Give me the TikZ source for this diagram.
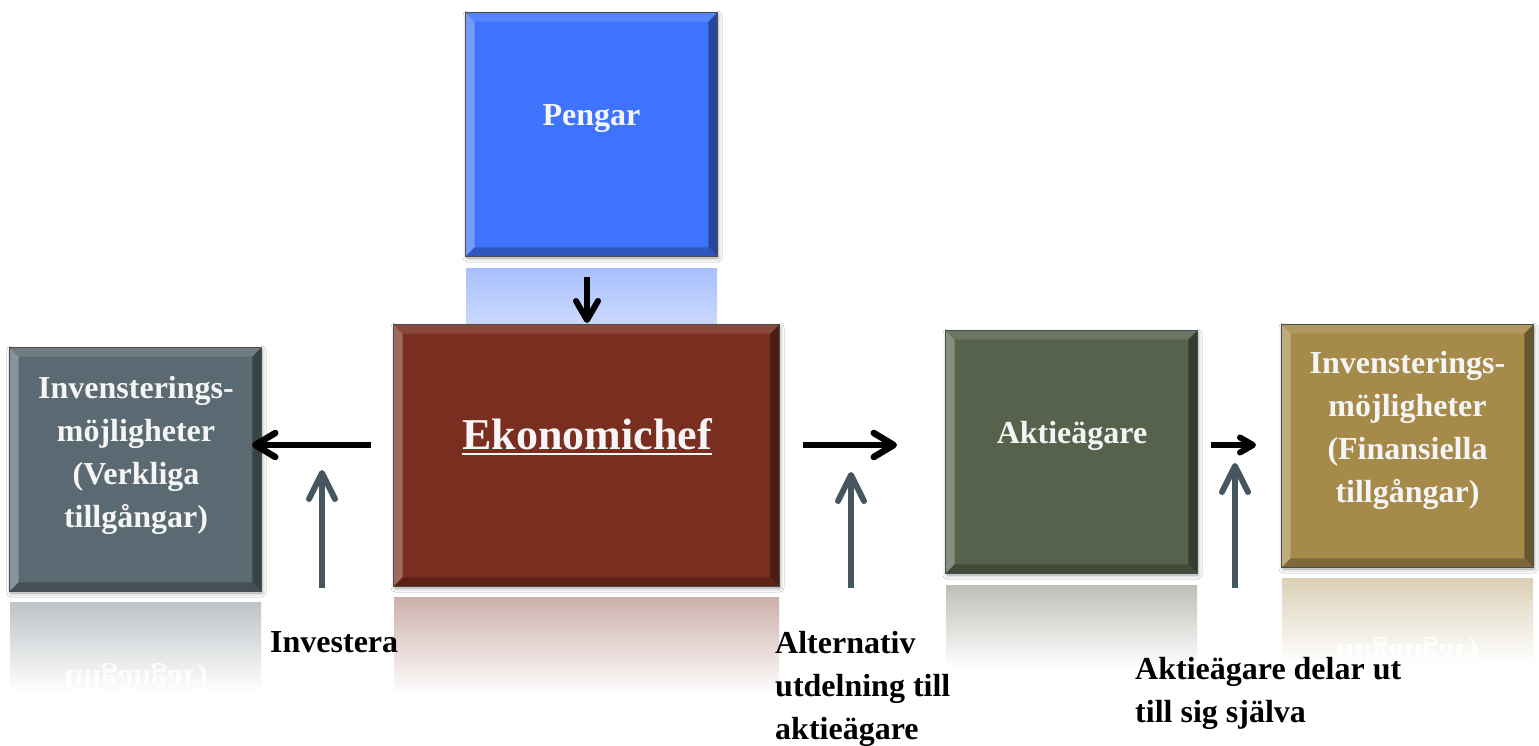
\documentclass[tikz,border=0pt]{standalone}
\usepackage{fontspec}
\setmainfont{Liberation Serif}
\usepackage{graphicx}
\usetikzlibrary{arrows.meta,shadows.blur}
\definecolor{cinv}{HTML}{5B6A72}
\definecolor{cpeng}{HTML}{3E73FD}
\definecolor{ceko}{HTML}{7A2E20}
\definecolor{cakt}{HTML}{57624C}
\definecolor{cfin}{HTML}{A68A4A}
\definecolor{cgray}{HTML}{46565E}
\newcommand\bvw{9}
\newcommand\bevbox[6]{%
  \node[boxbase, fill=#6, minimum width=#4pt, minimum height=#5pt] (#1) at (#2,#3) {};
  \fill[#6!72!white] (#1.north west) -- (#1.south west) -- ([shift={(\bvw,-\bvw)}]#1.south west) -- ([shift={(\bvw,\bvw)}]#1.north west) -- cycle;
  \fill[#6!88!white] (#1.north west) -- (#1.north east) -- ([shift={(-\bvw,\bvw)}]#1.north east) -- ([shift={(\bvw,\bvw)}]#1.north west) -- cycle;
  \fill[#6!62!black] (#1.north east) -- (#1.south east) -- ([shift={(-\bvw,-\bvw)}]#1.south east) -- ([shift={(-\bvw,\bvw)}]#1.north east) -- cycle;
  \fill[#6!75!black] (#1.south west) -- (#1.south east) -- ([shift={(-\bvw,-\bvw)}]#1.south east) -- ([shift={(\bvw,-\bvw)}]#1.south west) -- cycle;
  \draw[black!70, line width=0.9pt] (#1.north west) rectangle (#1.south east);
}
\newcommand\reflbox[7]{%
  \shade[top color=#5!#6!white, bottom color=#5!#7!white] (#1,#2) rectangle (#3,#4);
}
\newcommand\myul[1]{\setbox0=\hbox{#1}\rlap{\copy0}\rule[-6pt]{\wd0}{2pt}}
\tikzset{
  boxbase/.style={draw=black!70, line width=0.9pt, inner sep=0pt,
    blur shadow={shadow xshift=1pt, shadow yshift=-2pt, shadow blur radius=4pt, shadow opacity=40}},
  boxtxt/.style={text=white!96!black, font=\bfseries\fontsize{32}{43}\selectfont, align=center, inner sep=0pt},
  lbl/.style={text=black, font=\bfseries\fontsize{32}{43}\selectfont, align=left, inner sep=0pt},
  rtxt/.style={text=white, font=\bfseries\fontsize{32}{43}\selectfont, inner sep=0pt, opacity=0.9},
  blk/.style={line width=6.5pt, black, -{Straight Barb[length=20pt,width=24pt,round]}},
  blkdown/.style={line width=6pt, black, -{Straight Barb[length=19pt,width=22pt,round]}},
  blksmall/.style={line width=6pt, black, -{Straight Barb[length=13pt,width=15pt,round]}},
  gry/.style={line width=6pt, cgray, -{Straight Barb[length=26pt,width=26pt,round]}},
}
\begin{document}
\begin{tikzpicture}[x=1pt,y=-1pt]
\useasboundingbox (0,0) rectangle (1539,746);
\fill[white] (0,0) rectangle (1539,746);

% reflections
\reflbox{466}{268}{717}{325}{cpeng}{45}{27}
\reflbox{10}{602}{261}{692}{cinv}{40}{0}
\reflbox{394}{597}{779}{695}{ceko}{38}{0}
\reflbox{946}{585}{1197}{668}{cakt}{40}{0}
\reflbox{1282}{578}{1533}{662}{cfin}{40}{0}
\begin{scope}
  \clip (10,602) rectangle (261,692);
  \node[rtxt, anchor=base] (r1) at (136,670) {\scalebox{1}[-1]{tillgångar)}};
\end{scope}
\begin{scope}
  \clip (1282,578) rectangle (1533,662);
  \node[rtxt, anchor=base] (r2) at (1407,644) {\scalebox{1}[-1]{tillgångar)}};
\end{scope}

% boxes
\bevbox{pengar}{591.5}{134.5}{251}{243}{cpeng}
\bevbox{inv1}{135.5}{469.5}{251}{243}{cinv}
\bevbox{aktie}{1071.5}{452}{251}{242}{cakt}
\bevbox{inv2}{1407.5}{446}{251}{242}{cfin}
\bevbox{eko}{586.5}{455.5}{385}{261}{ceko}

% box texts
\node[boxtxt, anchor=base] (tpeng) at (591.5,126) {Pengar};
\node[boxtxt, anchor=north] (tinv1) at (136,376) {Invensterings-\\möjligheter\\(Verkliga\\tillgångar)};
\node[boxtxt, anchor=base, font=\bfseries\fontsize{44}{50}\selectfont] (teko) at (587,449) {\myul{Ekonomichef}};
\node[boxtxt, anchor=base] (takt) at (1072,443) {Aktieägare};
\node[boxtxt, anchor=north] (tinv2) at (1407.5,351) {Invensterings-\\möjligheter\\(Finansiella\\tillgångar)};

% labels
\node[lbl, anchor=base west] (lInv) at (270,652) {Investera};
\node[lbl, anchor=north west] (lAlt) at (775,631) {Alternativ\\utdelning till\\aktieägare};
\node[lbl, anchor=north west] (lAkt) at (1135,657) {Aktieägare delar ut\\till sig själva};

% connector end points
\coordinate (d1) at (587,277);
\coordinate (d2) at (587,323);
\coordinate (a1s) at (371,445);
\coordinate (a1e) at (252,445);
\coordinate (a2s) at (803,445);
\coordinate (a2e) at (897,445);
\coordinate (a3s) at (1211,445);
\coordinate (a3e) at (1256,445);
\coordinate (g1s) at (322,588);
\coordinate (g1e) at (322,470);
\coordinate (g2s) at (851,588);
\coordinate (g2e) at (851,472);
\coordinate (g3s) at (1235,588);
\coordinate (g3e) at (1235,463);

\draw[blkdown] (d1) -- (d2);
\draw[blk] (a1s) -- (a1e);
\draw[blk] (a2s) -- (a2e);
\draw[blksmall] (a3s) -- (a3e);
\draw[gry] (g1s) -- (g1e);
\draw[gry] (g2s) -- (g2e);
\draw[gry] (g3s) -- (g3e);
\end{tikzpicture}
\end{document}
